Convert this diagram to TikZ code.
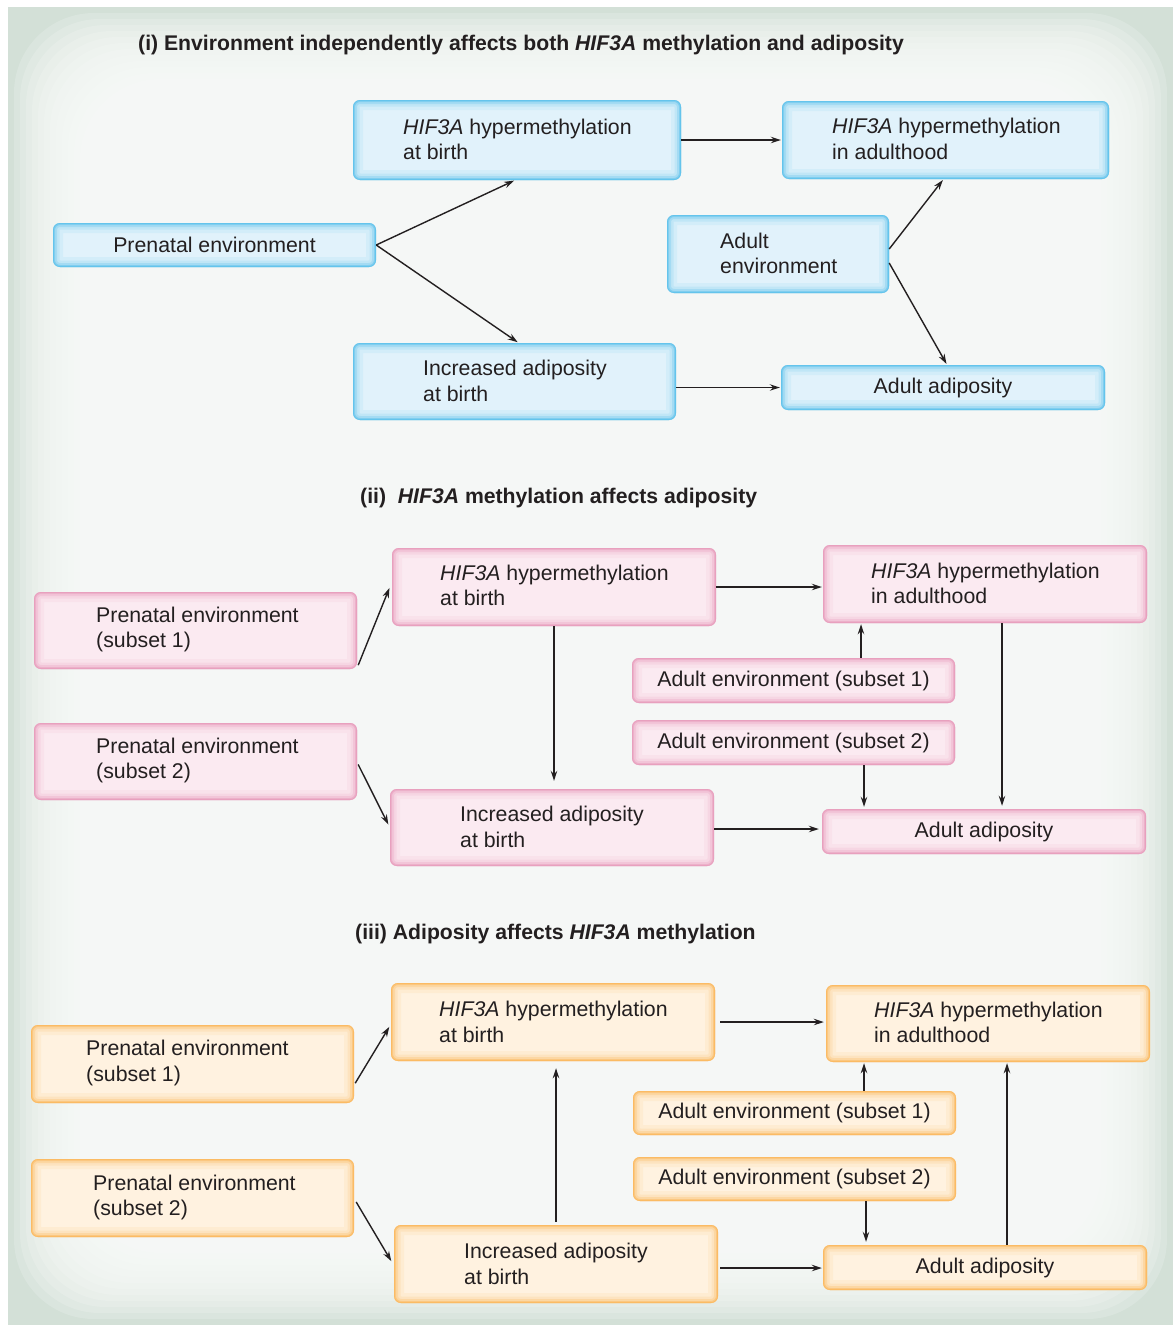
\documentclass[tikz,border=0pt]{standalone}
\usepackage{fontspec}
\setmainfont{Liberation Sans}
\usetikzlibrary{arrows.meta,fit}
\definecolor{ink}{HTML}{231F20}
\definecolor{bgin}{HTML}{F9FBFA}
\definecolor{bgout}{HTML}{D3E0D7}
\definecolor{bluein}{HTML}{E1F2FB}
\definecolor{blueedge}{HTML}{5EC2EC}
\definecolor{pinkin}{HTML}{FBEAF1}
\definecolor{pinkedge}{HTML}{E89CBC}
\definecolor{orin}{HTML}{FFF2E0}
\definecolor{oredge}{HTML}{FBB95E}
\tikzset{
  glowbox/.style 2 args={rounded corners=7pt, fill=#1, inner sep=0pt,
    path picture={
      \foreach \w/\o in {20/0.10, 13/0.16, 8/0.28, 4/0.5, 1.6/0.8}{
        \draw[line width=\w pt, draw=#2, opacity=\o, rounded corners=7pt]
          (path picture bounding box.south west) rectangle (path picture bounding box.north east);
      }
    }},
  bbox/.style={glowbox={bluein}{blueedge}},
  pbox/.style={glowbox={pinkin}{pinkedge}},
  obox/.style={glowbox={orin}{oredge}},
  txt/.style={inner sep=0pt, align=left, text=ink, font=\fontsize{21.3}{25.5}\selectfont},
  ttl/.style={inner sep=0pt, anchor=west, text=ink, font=\bfseries\fontsize{21.2}{25}\selectfont},
  arr/.style={draw=ink, line width=1.4pt, -{Stealth[length=10pt,width=6.5pt]}, shorten >=1pt}
}
\begin{document}
\begin{tikzpicture}[x=1pt,y=-1pt]
\useasboundingbox (0,0) rectangle (1173,1325);
\fill[white] (0,0) rectangle (1173,1325);
\fill[bgout] (8,7) rectangle (1173,1325);
\foreach \i in {1,...,24}{
  \fill[bgin, opacity=0.2, rounded corners=80pt] ({8+6*\i},{7+6*\i}) rectangle ({1173-6*\i},{1325-6*\i});
}

% ---------- panel (i)
\node[ttl] (t1) at (138,45) {(i) Environment independently affects both \textit{HIF3A} methylation and adiposity};
\node[bbox, fit={(353,100) (681,180)}] (a1) {};
\node[bbox, fit={(782,101) (1109,179)}] (a2) {};
\node[bbox, fit={(53,223) (376,267)}] (pe) {};
\node[bbox, fit={(667,215) (889,293)}] (ae) {};
\node[bbox, fit={(353,343) (676,420)}] (ia) {};
\node[bbox, fit={(781,365) (1105,410)}] (aa) {};
\node[txt, anchor=west] (a1t) at (403,139.5) {\textit{HIF3A} hypermethylation\\at birth};
\node[txt, anchor=west] (a2t) at (832,139) {\textit{HIF3A} hypermethylation\\in adulthood};
\node[txt] (pet) at (pe.center) {Prenatal environment};
\node[txt, anchor=west] (aet) at (720,253.5) {Adult\\environment};
\node[txt, anchor=west] (iat) at (423,381) {Increased adiposity\\at birth};
\node[txt] (aat) at (aa.center) {Adult adiposity};
\draw[arr] (pe.east) -- ([xshift=-2pt]a1.south);
\draw[arr] (pe.east) -- ([xshift=4pt]ia.north);
\draw[arr] (a1.east) -- (a1.east -| a2.west);
\draw[arr] ([yshift=5pt]ae.east) -- ([xshift=-2pt]a2.south);
\draw[arr] ([yshift=-9pt]ae.east) -- ([xshift=4pt]aa.north);
\draw[arr] (ia.east |- aa.west) -- (aa.west);

% ---------- panel (ii)
\node[ttl] (t2) at (360,498) {(ii)\ \ \textit{HIF3A} methylation affects adiposity};
\node[pbox, fit={(392,548) (716,626)}] (b1) {};
\node[pbox, fit={(823,545) (1147,623)}] (b2) {};
\node[pbox, fit={(34,592) (357,669)}] (p1) {};
\node[pbox, fit={(34,723) (357,800)}] (p2) {};
\node[pbox, fit={(632,658) (955,703)}] (e1) {};
\node[pbox, fit={(632,720) (955,765)}] (e2) {};
\node[pbox, fit={(390,789) (714,866)}] (ib) {};
\node[pbox, fit={(822,809) (1146,854)}] (ab) {};
\node[txt, anchor=west] (b1t) at (440,585.5) {\textit{HIF3A} hypermethylation\\at birth};
\node[txt, anchor=west] (b2t) at (871,583.5) {\textit{HIF3A} hypermethylation\\in adulthood};
\node[txt, anchor=west] (p1t) at (96,629.5) {Prenatal environment\\(subset 1)};
\node[txt, anchor=west] (p2t) at (96,760.5) {Prenatal environment\\(subset 2)};
\node[txt] (e1t) at (e1.center) {Adult environment (subset 1)};
\node[txt] (e2t) at (e2.center) {Adult environment (subset 2)};
\node[txt, anchor=west] (ibt) at (460,827) {Increased adiposity\\at birth};
\node[txt] (abt) at (ab.center) {Adult adiposity};
\draw[arr] ([xshift=1pt,yshift=4pt]p1.south east) -- ([xshift=-2pt]b1.west);
\draw[arr] ([xshift=1pt,yshift=-3pt]p2.east) -- ([xshift=-1pt,yshift=2pt]ib.west);
\draw[arr, shorten >=8pt] (b1.south) -- (b1.south |- ib.north);
\draw[arr] (b1.east) -- (b1.east -| b2.west);
\draw[arr] ([xshift=67.5pt]e1.north) -- ([xshift=67.5pt]e1.north |- b2.south);
\draw[arr, shorten >=2pt] ([xshift=70.5pt]e2.south) -- ([xshift=70.5pt]e2.south |- ab.north);
\draw[arr, shorten >=3pt] ([xshift=17pt]b2.south) -- ([xshift=17pt]b2.south |- ab.north);
\draw[arr, shorten >=3pt] ([yshift=-1.5pt]ib.east) -- ([yshift=-1.5pt]ib.east -| ab.west);

% ---------- panel (iii)
\node[ttl] (t3) at (355,934) {(iii) Adiposity affects \textit{HIF3A} methylation};
\node[obox, fit={(391,983) (715,1061)}] (c1) {};
\node[obox, fit={(826,985) (1150,1062)}] (c2) {};
\node[obox, fit={(31,1025) (354,1103)}] (q1) {};
\node[obox, fit={(31,1159) (354,1237)}] (q2) {};
\node[obox, fit={(633,1091) (956,1135)}] (f1) {};
\node[obox, fit={(633,1157) (956,1201)}] (f2) {};
\node[obox, fit={(394,1225) (718,1303)}] (ic) {};
\node[obox, fit={(823,1245) (1147,1290)}] (ac) {};
\node[txt, anchor=west] (c1t) at (439,1022) {\textit{HIF3A} hypermethylation\\at birth};
\node[txt, anchor=west] (c2t) at (874,1022.5) {\textit{HIF3A} hypermethylation\\in adulthood};
\node[txt, anchor=west] (q1t) at (86,1063) {Prenatal environment\\(subset 1)};
\node[txt, anchor=west] (q2t) at (93,1197.5) {Prenatal environment\\(subset 2)};
\node[txt] (f1t) at (f1.center) {Adult environment (subset 1)};
\node[txt] (f2t) at (f2.center) {Adult environment (subset 2)};
\node[txt, anchor=west] (ict) at (464,1264) {Increased adiposity\\at birth};
\node[txt] (act) at (ac.center) {Adult adiposity};
\draw[arr] ([xshift=1pt,yshift=20pt]q1.south east) -- ([xshift=-1pt,yshift=-4pt]c1.west);
\draw[arr] ([xshift=2pt,yshift=-4pt]q2.east) -- ([xshift=-2pt,yshift=2pt]ic.west);
\draw[arr, shorten <=3pt, shorten >=7pt] (ic.north) -- (ic.north |- c1.south);
\draw[arr, shorten <=5pt, shorten >=2pt] (c1.east) -- (c1.east -| c2.west);
\draw[arr] ([xshift=69.5pt]f1.north) -- ([xshift=69.5pt]f1.north |- c2.south);
\draw[arr, shorten >=3pt] ([xshift=71.5pt]f2.south) -- ([xshift=71.5pt]f2.south |- ac.north);
\draw[arr] ([xshift=22pt]ac.north) -- ([xshift=22pt]ac.north |- c2.south);
\draw[arr, shorten <=2pt] ([yshift=-4pt]ic.east) -- ([yshift=-4pt]ic.east -| ac.west);
\end{tikzpicture}
\end{document}
